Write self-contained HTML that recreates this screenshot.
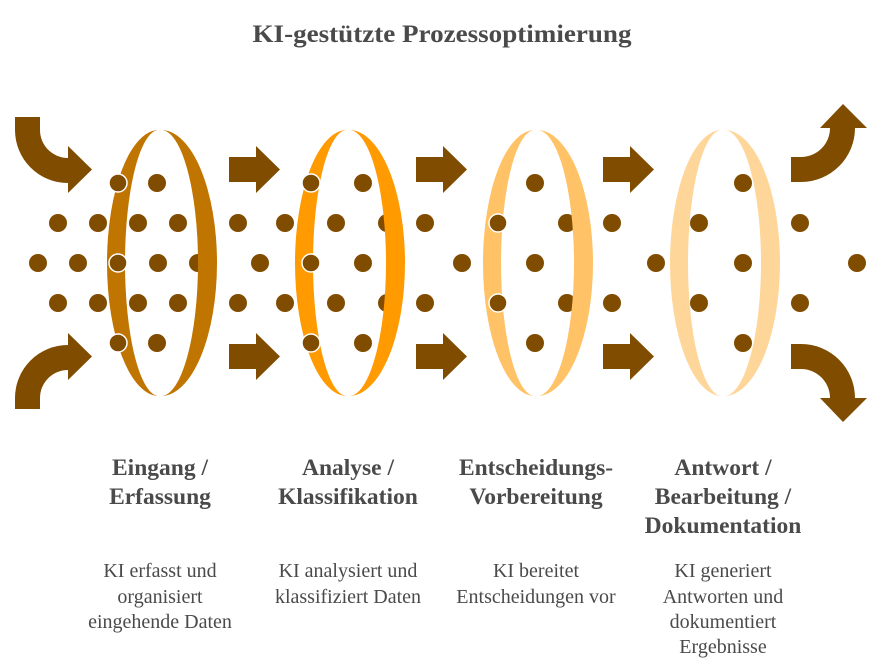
<!DOCTYPE html>
<html><head><meta charset="utf-8"><style>
html,body{margin:0;padding:0;background:#fff;}
svg{display:block;}
.t{font-family:"Liberation Serif",serif;fill:#4a4a4a;text-anchor:middle;}
.b{font-weight:bold;font-size:23.5px;}
.d{font-size:20px;}
</style></head><body>
<svg width="884" height="665" viewBox="0 0 884 665" xmlns="http://www.w3.org/2000/svg">
<text class="t" x="442" y="42" font-weight="bold" font-size="25" textLength="379" lengthAdjust="spacingAndGlyphs">KI-gestützte Prozessoptimierung</text>

<g fill="#7F4C00">
<path d="M15,117 H40 V130 A28,28 0 0 0 68,158 V146 L92,169.5 L68,193 V183 A53,53 0 0 1 15,130 Z"/>
<path d="M15,409 H40 V398 A28,28 0 0 1 68,370 V380 L92,356.5 L68,333 V345 A53,53 0 0 0 15,398 Z"/>
<path d="M791,157 H801 A29,29 0 0 0 830,128 H820 L843,104 L867,128 H855 A54,54 0 0 1 801,182 H791 Z"/>
<path d="M791,369 H801 A29,29 0 0 1 830,398 H820 L843,422 L867,398 H855 A54,54 0 0 0 801,344 H791 Z"/>
<path d="M229,157 H256 V146 L280,169.5 L256,193 V182 H229 Z"/>
<path d="M229,344 H256 V333 L280,356.5 L256,380 V369 H229 Z"/>
<path d="M416,157 H443 V146 L467,169.5 L443,193 V182 H416 Z"/>
<path d="M416,344 H443 V333 L467,356.5 L443,380 V369 H416 Z"/>
<path d="M603,157 H630 V146 L654,169.5 L630,193 V182 H603 Z"/>
<path d="M603,344 H630 V333 L654,356.5 L630,380 V369 H603 Z"/>
</g>

<path fill="#C07500" d="M159,130 A52,133 0 0 0 159,396 A34,133 0 0 1 159,130 Z"/>
<path fill="#FF9A00" d="M347,130 A52,133 0 0 0 347,396 A34,133 0 0 1 347,130 Z"/>
<path fill="#FFC266" d="M535,130 A52,133 0 0 0 535,396 A34,133 0 0 1 535,130 Z"/>
<path fill="#FFD699" d="M722,130 A52,133 0 0 0 722,396 A34,133 0 0 1 722,130 Z"/>

<g fill="#7F4C00">
<circle cx="157" cy="183" r="9"/><circle cx="157" cy="343" r="9"/>
<circle cx="58" cy="223" r="9"/><circle cx="98" cy="223" r="9"/><circle cx="138" cy="223" r="9"/><circle cx="178" cy="223" r="9"/>
<circle cx="58" cy="303" r="9"/><circle cx="98" cy="303" r="9"/><circle cx="138" cy="303" r="9"/><circle cx="178" cy="303" r="9"/>
<circle cx="38" cy="263" r="9"/><circle cx="78" cy="263" r="9"/><circle cx="158" cy="263" r="9"/><circle cx="198" cy="263" r="9"/>
<circle cx="238" cy="223" r="9"/><circle cx="238" cy="303" r="9"/><circle cx="260" cy="263" r="9"/>
<circle cx="285" cy="223" r="9"/><circle cx="285" cy="303" r="9"/>
<circle cx="363" cy="183" r="9"/><circle cx="363" cy="263" r="9"/><circle cx="363" cy="343" r="9"/>
<circle cx="336" cy="223" r="9"/><circle cx="336" cy="303" r="9"/>
<circle cx="387" cy="223" r="9"/><circle cx="387" cy="303" r="9"/>
<circle cx="425" cy="223" r="9"/><circle cx="425" cy="303" r="9"/><circle cx="462" cy="263" r="9"/>
<circle cx="535" cy="183" r="9"/><circle cx="535" cy="263" r="9"/><circle cx="535" cy="343" r="9"/>
<circle cx="567" cy="223" r="9"/><circle cx="567" cy="303" r="9"/>
<circle cx="612" cy="223" r="9"/><circle cx="612" cy="303" r="9"/><circle cx="656" cy="263" r="9"/>
<circle cx="699" cy="223" r="9"/><circle cx="699" cy="303" r="9"/>
<circle cx="743" cy="183" r="9"/><circle cx="743" cy="263" r="9"/><circle cx="743" cy="343" r="9"/>
<circle cx="800" cy="223" r="9"/><circle cx="800" cy="303" r="9"/><circle cx="857" cy="263" r="9"/>
</g>
<g fill="#7F4C00" stroke="#fff" stroke-width="1.5">
<circle cx="118" cy="183" r="9"/><circle cx="118" cy="263" r="9"/><circle cx="118" cy="343" r="9"/>
<circle cx="311" cy="183" r="9"/><circle cx="311" cy="263" r="9"/><circle cx="311" cy="343" r="9"/>
<circle cx="498" cy="223" r="9"/><circle cx="498" cy="303" r="9"/>
</g>

<path fill="#C07500" d="M161,130 A56,133 0 0 1 161,396 A37,133 0 0 0 161,130 Z"/>
<path fill="#FF9A00" d="M349,130 A56,133 0 0 1 349,396 A37,133 0 0 0 349,130 Z"/>
<path fill="#FFC266" d="M537,130 A56,133 0 0 1 537,396 A37,133 0 0 0 537,130 Z"/>
<path fill="#FFD699" d="M724,130 A56,133 0 0 1 724,396 A37,133 0 0 0 724,130 Z"/>

<text class="t b" x="160" y="475">Eingang /</text>
<text class="t b" x="160" y="504">Erfassung</text>
<text class="t b" x="348" y="475">Analyse /</text>
<text class="t b" x="348" y="504">Klassifikation</text>
<text class="t b" x="536" y="475">Entscheidungs-</text>
<text class="t b" x="536" y="504">Vorbereitung</text>
<text class="t b" x="723" y="475">Antwort /</text>
<text class="t b" x="723" y="504">Bearbeitung /</text>
<text class="t b" x="723" y="533">Dokumentation</text>

<text class="t d" x="160" y="577">KI erfasst und</text>
<text class="t d" x="160" y="603">organisiert</text>
<text class="t d" x="160" y="628">eingehende Daten</text>
<text class="t d" x="348" y="577">KI analysiert und</text>
<text class="t d" x="348" y="603">klassifiziert Daten</text>
<text class="t d" x="536" y="577">KI bereitet</text>
<text class="t d" x="536" y="603">Entscheidungen vor</text>
<text class="t d" x="723" y="577">KI generiert</text>
<text class="t d" x="723" y="603">Antworten und</text>
<text class="t d" x="723" y="628">dokumentiert</text>
<text class="t d" x="723" y="653">Ergebnisse</text>
</svg>
</body></html>
